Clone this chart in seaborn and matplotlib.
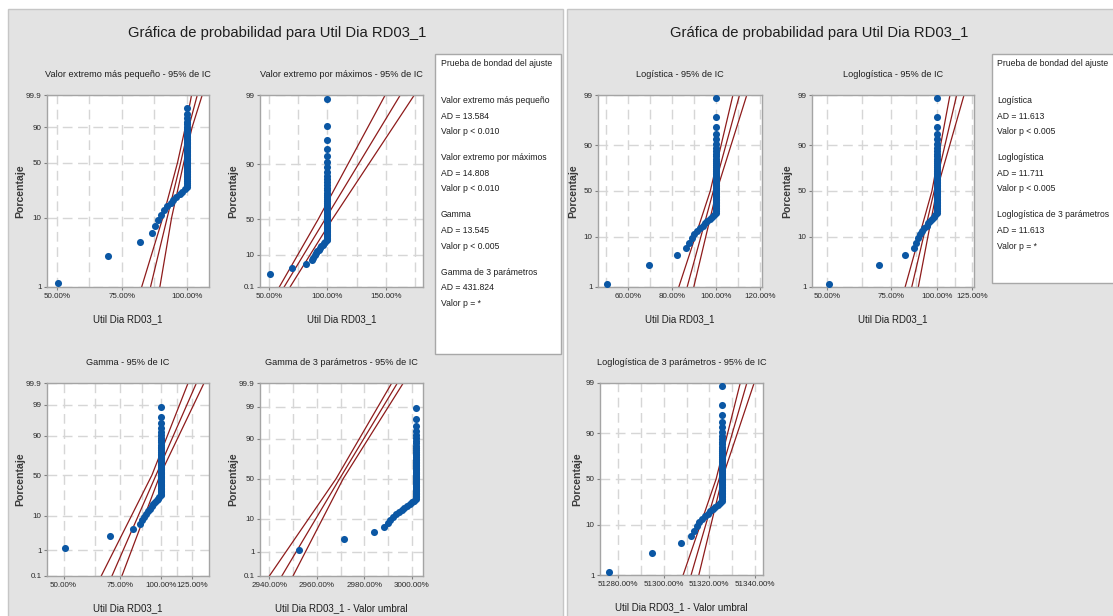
import matplotlib
matplotlib.use('Agg')
import matplotlib.pyplot as plt
import seaborn as sns
import numpy as np
from statistics import NormalDist
from matplotlib.patches import Rectangle
from matplotlib.ticker import FixedLocator, FuncFormatter, NullFormatter

# Util Dia RD03_1 values (%)
util_low = [50.5, 69.5, 82.0, 86.5, 87.8, 89.0, 90.0, 91.2, 92.5, 93.8, 94.8, 96.0, 97.2, 98.2, 99.2]
util_full = [100.0] * 45          # the vertical stack at 100 %
threshold_gamma3 = -2902.0
threshold_loglog3 = -51225.5

# fitted line and 95% CI: x value at the given percentiles
sev_pct = [1, 10, 50, 90, 99.9]
sev_fit = [86.0, 92.4, 97.6, 100.7, 104.0]
sev_lo = [82.6, 90.7, 96.4, 99.4, 101.8]
sev_hi = [89.6, 94.1, 98.8, 102.0, 105.9]

lev_pct = [0.1, 50, 99]
lev_fit = [62.9, 97.9, 162.3]
lev_lo = [58.8, 92.0, 149.4]
lev_hi = [68.0, 104.0, 174.3]

gam_pct = [0.1, 50, 99.9]
gam_fit = [70.6, 96.8, 129.2]
gam_lo = [65.4, 94.0, 121.7]
gam_hi = [75.8, 99.6, 136.4]

gam3_pct = [0.1, 50, 99.9]
gam3_fit = [2945.2, 2969.5, 2994.0]
gam3_lo = [2940.0, 2968.0, 2991.6]
gam3_hi = [2949.9, 2971.0, 2996.5]

logi_pct = [1, 50, 99]
logi_fit = [86.8, 98.7, 110.6]
logi_lo = [83.0, 97.3, 107.6]
logi_hi = [89.8, 100.2, 113.9]

llog_pct = [1, 50, 99]
llog_fit = [85.4, 98.4, 113.4]
llog_lo = [81.9, 97.0, 108.7]
llog_hi = [89.0, 99.9, 118.8]

llog3_pct = [1, 50, 99]
llog3_fit = [51312.0, 51324.3, 51336.5]
llog3_lo = [51308.5, 51323.0, 51333.6]
llog3_hi = [51315.4, 51325.6, 51339.7]

# goodness of fit boxes
left_gof_names = ['Valor extremo más pequeño', 'Valor extremo por máximos', 'Gamma', 'Gamma de 3 parámetros']
left_gof_ad = ['13.584', '14.808', '13.545', '431.824']
left_gof_p = ['< 0.010', '< 0.010', '< 0.005', '= *']
right_gof_names = ['Logística', 'Loglogística', 'Loglogística de 3 parámetros']
right_gof_ad = ['11.613', '11.711', '11.613']
right_gof_p = ['< 0.005', '< 0.005', '= *']

BLUE = '#0b57a4'
RED = '#8e1b1b'
PANEL = '#e3e3e3'
TXT = '#1e1e1e'
W, H = 1113, 616

sns.set_theme(style='white')
plt.rcParams['font.family'] = ['Liberation Sans', 'DejaVu Sans']

util = np.array(util_low + util_full)
n = len(util)
pct = (np.arange(1, n + 1) - 0.3) / (n + 0.4) * 100   # median ranks

_nd = NormalDist()
probit = np.vectorize(_nd.inv_cdf, otypes=[float])
ncdf = np.vectorize(_nd.cdf, otypes=[float])


def frac(p):
    return np.clip(np.asarray(p, dtype=float), 1e-6, 100 - 1e-6) / 100.0


sev_scale = (lambda p: np.log(-np.log(1 - frac(p))),
             lambda y: 100 * (1 - np.exp(-np.exp(np.asarray(y, dtype=float)))))
lev_scale = (lambda p: -np.log(-np.log(frac(p))),
             lambda y: 100 * np.exp(-np.exp(-np.asarray(y, dtype=float))))
logit_scale = (lambda p: np.log(frac(p) / (1 - frac(p))),
               lambda y: 100 / (1 + np.exp(-np.asarray(y, dtype=float))))


def gamma_scale(a):
    def fwd(p):
        return np.log1p(a * probit(frac(p))) / a

    def inv(y):
        return 100 * ncdf(np.expm1(a * np.asarray(y, dtype=float)) / a)
    return fwd, inv


fig = plt.figure(figsize=(W / 100, H / 100), dpi=100)
fig.patch.set_facecolor('white')


def px_rect(x0, y0, x1, y1, **kw):
    fig.add_artist(Rectangle((x0 / W, 1 - y1 / H), (x1 - x0) / W, (y1 - y0) / H,
                             transform=fig.transFigure, **kw))


px_rect(8, 9, 563, 625, facecolor=PANEL, edgecolor='#c6c6c6', lw=1, zorder=-5)
px_rect(567, 9, 1120, 625, facecolor=PANEL, edgecolor='#c6c6c6', lw=1, zorder=-5)

for xc in (277, 819):
    fig.text(xc / W, 1 - 33 / H, 'Gráfica de probabilidad para Util Dia RD03_1',
             ha='center', va='center', fontsize=10.6, color=TXT)


def prob_plot(box, xvals, scale, yticks, ylim, line_pct, lines, xscale, xticks, xgrid, xlim,
              title, xlabel, ylab_x):
    x0, y0, x1, y1 = box
    ax = fig.add_axes([x0 / W, 1 - y1 / H, (x1 - x0) / W, (y1 - y0) / H])
    ax.set_facecolor('white')
    ax.set_yscale('function', functions=scale)
    ax.set_xscale(xscale)

    for xs in lines:
        sns.lineplot(x=xs, y=line_pct, ax=ax, color=RED, lw=0.9, sort=False,
                     estimator=None, zorder=2)
    sns.scatterplot(x=xvals, y=pct, ax=ax, color=BLUE, s=26, linewidth=0,
                    legend=False, zorder=3)

    ax.set_xlim(*xlim)
    ax.set_ylim(*ylim)
    ax.yaxis.set_major_locator(FixedLocator(yticks))
    ax.yaxis.set_minor_locator(FixedLocator([]))
    ax.yaxis.set_major_formatter(FuncFormatter(lambda v, _: f'{v:g}'))
    ax.yaxis.set_minor_formatter(NullFormatter())
    ax.xaxis.set_major_locator(FixedLocator(xticks))
    ax.xaxis.set_minor_locator(FixedLocator(xgrid))
    ax.xaxis.set_major_formatter(FuncFormatter(lambda v, _: f'{v:.2f}%'))
    ax.xaxis.set_minor_formatter(NullFormatter())

    ax.grid(True, which='both', axis='x', color='#d6d6d6', lw=1, ls=(0, (7, 4)))
    ax.grid(True, which='major', axis='y', color='#d6d6d6', lw=1, ls=(0, (7, 4)))
    ax.set_axisbelow(True)
    for s in ax.spines.values():
        s.set_color('#a4a4a4')
        s.set_linewidth(1)
    ax.tick_params(which='major', length=2.5, width=0.8, color='#808080', pad=1.5,
                   labelsize=5.8, labelcolor='#2a2a2a', bottom=True, left=True)
    ax.tick_params(which='minor', length=0)

    ax.set_title(title, fontsize=6.6, pad=13, color=TXT)
    ax.set_xlabel(xlabel, fontsize=7, color=TXT)
    ax.xaxis.set_label_coords(0.5, -27 / (y1 - y0))
    ax.set_ylabel('Porcentaje', fontsize=7.6, fontweight='bold', color='#3a3a3a')
    ax.yaxis.set_label_coords(-(x0 - ylab_x) / (x1 - x0), 0.5)
    return ax


grid_log = [50, 62.5, 75, 87.5, 100, 112.5, 125]
xl = 'Util Dia RD03_1'
xl3 = 'Util Dia RD03_1 - Valor umbral'

panels = [
    ((47, 95, 209, 287), util, sev_scale, [1, 10, 50, 90, 99.9], (1, 99.9), sev_pct,
     [sev_lo, sev_fit, sev_hi], 'linear', [50, 75, 100], [50, 62.5, 75, 87.5, 100], (46.2, 108.5),
     'Valor extremo más pequeño - 95% de IC', xl, 25),
    ((260, 95, 423, 287), util, lev_scale, [0.1, 10, 50, 90, 99], (0.1, 99), lev_pct,
     [lev_lo, lev_fit, lev_hi], 'linear', [50, 100, 150], [50, 75, 100, 125, 150, 175], (42.3, 181.7),
     'Valor extremo por máximos - 95% de IC', xl, 238),
    ((47, 383, 209, 576), util, gamma_scale(0.03), [0.1, 1, 10, 50, 90, 99, 99.9], (0.1, 99.9), gam_pct,
     [gam_lo, gam_fit, gam_hi], 'log', [50, 75, 100, 125], grid_log, (44.4, 141.3),
     'Gamma - 95% de IC', xl, 25),
    ((260, 383, 423, 576), util - threshold_gamma3, gamma_scale(0.005), [0.1, 1, 10, 50, 90, 99, 99.9],
     (0.1, 99.9), gam3_pct, [gam3_lo, gam3_fit, gam3_hi], 'log', [2940, 2960, 2980, 3000],
     [2940, 2950, 2960, 2970, 2980, 2990, 3000], (2936.1, 3004.9),
     'Gamma de 3 parámetros - 95% de IC', xl3, 238),
    ((598, 95, 762, 287), util, logit_scale, [1, 10, 50, 90, 99], (1, 99), logi_pct,
     [logi_lo, logi_fit, logi_hi], 'linear', [60, 80, 100, 120], [50, 60, 70, 80, 90, 100, 110, 120],
     (46.3, 120.8), 'Logística - 95% de IC', xl, 578),
    ((812, 95, 974, 287), util, logit_scale, [1, 10, 50, 90, 99], (1, 99), llog_pct,
     [llog_lo, llog_fit, llog_hi], 'log', [50, 75, 100, 125], grid_log, (45.5, 126.5),
     'Loglogística - 95% de IC', xl, 792),
    ((600, 383, 763, 575), util - threshold_loglog3, logit_scale, [1, 10, 50, 90, 99], (1, 99), llog3_pct,
     [llog3_lo, llog3_fit, llog3_hi], 'log', [51280, 51300, 51320, 51340],
     [51280, 51290, 51300, 51310, 51320, 51330, 51340], (51272, 51343.6),
     'Loglogística de 3 parámetros - 95% de IC', xl3, 582),
]

for args in panels:
    prob_plot(*args)


def gof_box(rect, x, names, ads, ps):
    px_rect(*rect, facecolor='white', edgecolor='#a8a8a8', lw=1, zorder=1)
    fs = 6.25
    fig.text(x / W, 1 - 64 / H, 'Prueba de bondad del ajuste', va='center', ha='left',
             fontsize=fs, color=TXT)
    y = 100.5
    for name, ad, p in zip(names, ads, ps):
        for line in (name, f'AD = {ad}', f'Valor p {p}'):
            fig.text(x / W, 1 - y / H, line, va='center', ha='left', fontsize=fs, color=TXT)
            y += 15.6
        y += 26 - 15.6


gof_box((435, 54, 561, 354), 441, left_gof_names, left_gof_ad, left_gof_p)
gof_box((992, 54, 1120, 283), 997, right_gof_names, right_gof_ad, right_gof_p)

fig.savefig('out.png', dpi=100, facecolor='white')
